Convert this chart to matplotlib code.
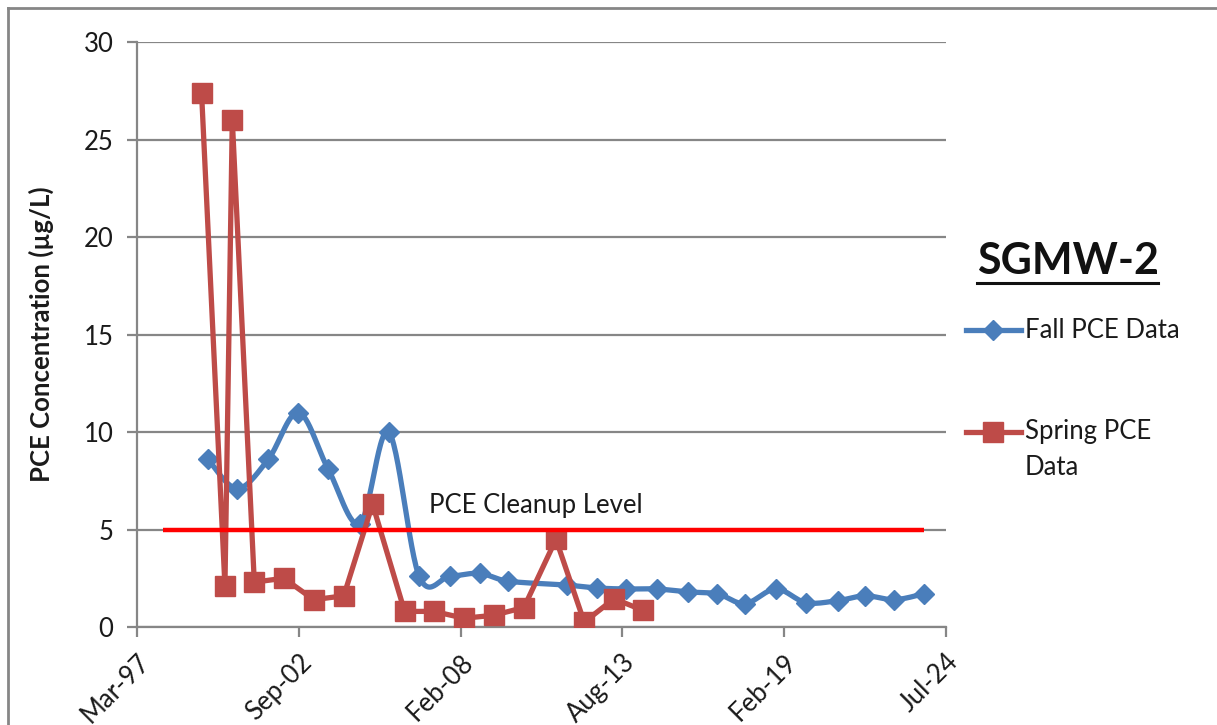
import numpy as np
import pandas as pd
import matplotlib
matplotlib.use("Agg")
import matplotlib.pyplot as plt
import matplotlib.dates as mdates
from matplotlib.lines import Line2D

plt.rcParams['font.family'] = ['Lato', 'DejaVu Sans']

# ---------------- data ----------------
fall_dates = ["1999-08-05", "2000-08-01", "2001-08-20", "2002-08-28", "2003-08-30",
              "2004-09-25", "2005-09-15", "2006-09-28", "2007-10-12", "2008-10-15",
              "2009-10-05", "2011-09-24", "2012-10-10", "2013-10-02", "2014-10-11",
              "2015-11-04", "2016-11-01", "2017-10-09", "2018-10-24", "2019-10-30",
              "2020-11-25", "2021-11-02", "2022-10-27", "2023-10-25"]
fall_pce = [8.6, 7.1, 8.6, 11.0, 8.1, 5.3, 10.0, 2.6, 2.6, 2.75,
            2.35, 2.15, 2.0, 1.95, 1.95, 1.8, 1.7, 1.2, 1.95, 1.25,
            1.35, 1.6, 1.4, 1.7]

spring_dates = ["1999-05-18", "2000-03-02", "2000-06-01", "2001-02-28", "2002-02-28",
                "2003-03-05", "2004-03-10", "2005-03-01", "2006-04-01", "2007-03-28",
                "2008-04-05", "2009-04-05", "2010-04-15", "2011-05-16", "2012-04-29",
                "2013-05-03", "2014-04-29"]
spring_pce = [27.4, 2.1, 26.0, 2.3, 2.5, 1.4, 1.6, 6.3, 0.8, 0.8,
              0.45, 0.6, 1.0, 4.5, 0.25, 1.45, 0.85]

cleanup_dates = ["1998-01-26", "2023-10-25"]
cleanup_level = [5, 5]

x_min_date = "1997-03-11"
x_max_date = "2024-07-27"
x_major_days = 2000
y_ticks = [0, 5, 10, 15, 20, 25, 30]

series_labels = ["Fall PCE Data", "Spring PCE\nData"]
title_text = "SGMW-2"
ylabel_text = "PCE Concentration (\u00b5g/L)"
cleanup_text = "PCE Cleanup Level"

# ---------------- styling ----------------
BLUE = "#4A7EBB"
RED = "#BE4B48"
GRID = "#868686"
FS = 18.5

def to_num(ds):
    return mdates.date2num(pd.to_datetime(ds).to_pydatetime())

def catmull_rom(x, y, n=30):
    x = np.asarray(x, float); y = np.asarray(y, float)
    P = np.column_stack([x, y])
    P = np.vstack([P[0], P, P[-1]])
    out = []
    for i in range(1, len(P) - 2):
        p0, p1, p2, p3 = P[i - 1], P[i], P[i + 1], P[i + 2]
        c1 = p1 + (p2 - p0) / 6.0
        c2 = p2 - (p3 - p1) / 6.0
        t = np.linspace(0, 1, n)[:, None]
        seg = ((1 - t) ** 3) * p1 + 3 * ((1 - t) ** 2) * t * c1 + 3 * (1 - t) * t ** 2 * c2 + t ** 3 * p2
        out.append(seg if i == 1 else seg[1:])
    out = np.vstack(out)
    return out[:, 0], out[:, 1]

W, H = 1217, 725
fig = plt.figure(figsize=(W / 100, H / 100), dpi=100)
ax = fig.add_axes([137 / W, 1 - 627 / H, (946 - 137) / W, (627 - 42) / H])

fx = to_num(fall_dates)
sx = to_num(spring_dates)
cx = to_num(cleanup_dates)

# Fall series (smoothed line)
xs, ys = catmull_rom(fx, fall_pce)
ax.plot(xs, ys, color=BLUE, lw=3.8, solid_capstyle='round', zorder=3)
ax.plot(fx, fall_pce, ls='none', marker='D', ms=10, color=BLUE, mec=BLUE, zorder=4)

# Spring series (straight line)
ax.plot(sx, spring_pce, color=RED, lw=3.8, zorder=5)
ax.plot(sx, spring_pce, ls='none', marker='s', ms=14, color=RED, mec=RED, zorder=6)

# Cleanup level
ax.plot(cx, cleanup_level, color="#FF0000", lw=3.2, zorder=7, solid_capstyle='butt')
ax.text(mdates.date2num(pd.Timestamp("2010-09-10")), 6.25, cleanup_text,
        fontsize=FS, color="#1a1a1a", ha='center', va='center', zorder=8)

# Axes
x0 = to_num([x_min_date])[0]
x1 = to_num([x_max_date])[0]
ax.set_xlim(x0, x1)
ax.set_ylim(0, 30)
ax.set_xticks(np.arange(x0, x1 + 1, x_major_days))
ax.xaxis.set_major_formatter(mdates.DateFormatter('%b-%y'))
ax.set_yticks(y_ticks)
ax.yaxis.grid(True, color=GRID, lw=1.6)
ax.set_axisbelow(True)
for s in ['top', 'right']:
    ax.spines[s].set_visible(False)
for s in ['left', 'bottom']:
    ax.spines[s].set_color(GRID)
    ax.spines[s].set_linewidth(1.6)
ax.tick_params(axis='both', colors=GRID, width=1.6, length=7, labelcolor="#1a1a1a", labelsize=FS)
ax.tick_params(axis='y', pad=10)
ax.tick_params(axis='x', pad=9)
for lab in ax.get_xticklabels():
    lab.set_rotation(45)
    lab.set_ha('right')
    lab.set_va('top')
    lab.set_rotation_mode('anchor')

ax.set_ylabel(ylabel_text, fontsize=FS, fontweight='bold', color="#1a1a1a")
ax.yaxis.set_label_coords((54 - 137) / (946 - 137), 0.5)

# Title with underline
fig.text(1068 / W, 1 - 261 / H, title_text, fontsize=31, fontweight='bold', ha='center', va='center', color="#111111")
fig.add_artist(Line2D([977 / W, 1158 / W], [1 - 283 / H, 1 - 283 / H], color="#111111", lw=2.2, transform=fig.transFigure))

# Legend (manual)
for lab, col, mk, ms, yy in [(series_labels[0], BLUE, 'D', 10, 330), (series_labels[1], RED, 's', 14, 432)]:
    fig.add_artist(Line2D([966 / W, 1021 / W], [1 - yy / H] * 2, color=col, lw=3.8, transform=fig.transFigure))
    fig.add_artist(Line2D([993.5 / W], [1 - yy / H], color=col, marker=mk, ms=ms, ls='none', transform=fig.transFigure))
    for k, line in enumerate(lab.split('\n')):
        fig.text(1025 / W, 1 - (yy + 35 * k) / H, line, fontsize=FS, ha='left', va='center', color="#1a1a1a")

# Chart area border (top and left)
fig.add_artist(Line2D([8 / W, 8 / W], [0, 1 - 8 / H], color=GRID, lw=2, transform=fig.transFigure))
fig.add_artist(Line2D([8 / W, 1], [1 - 8 / H, 1 - 8 / H], color=GRID, lw=2, transform=fig.transFigure))

fig.savefig("out.png", dpi=100)
